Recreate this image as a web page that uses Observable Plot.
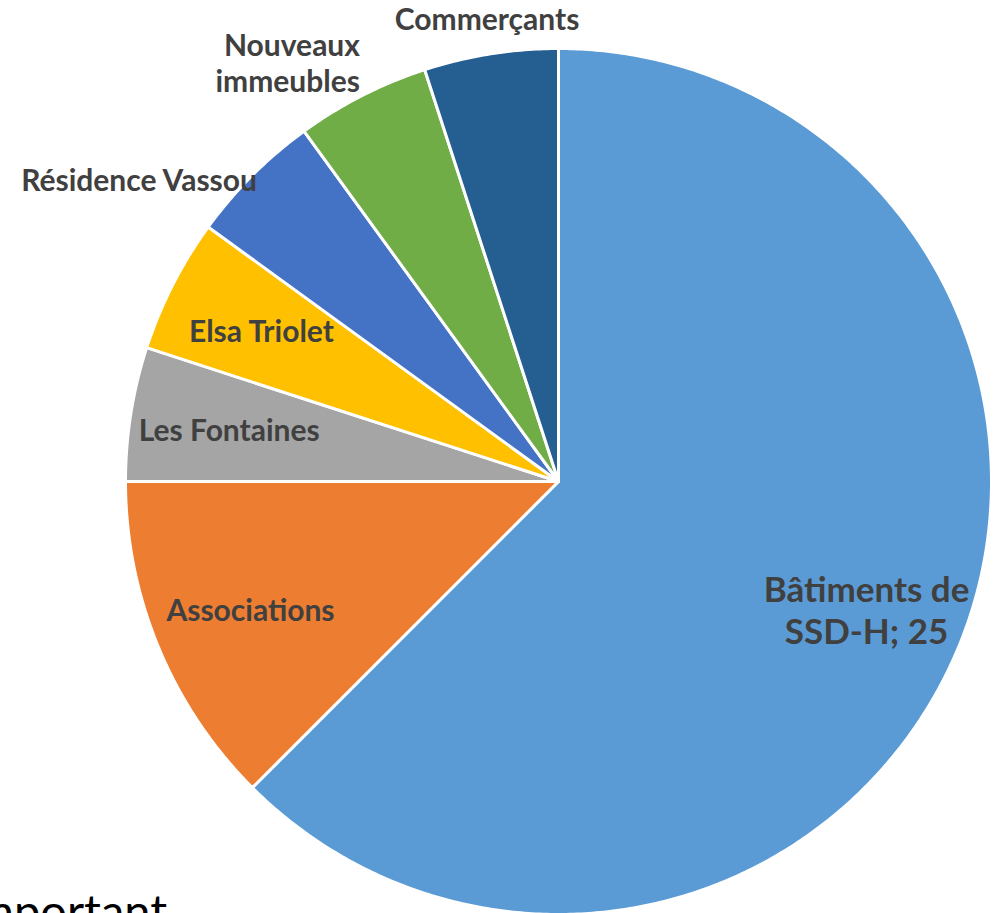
<!DOCTYPE html>
<html><head><meta charset="utf-8">
<script src="https://cdn.jsdelivr.net/npm/d3@7"></script>
<script src="https://cdn.jsdelivr.net/npm/@observablehq/plot@0.6"></script>
<style>
html,body{margin:0;padding:0;background:#fff;overflow:hidden}
#chart{width:996px;height:913px}
</style></head>
<body><div id="chart"></div>
<script>
const categories = ["Bâtiments de SSD-H","Associations","Les Fontaines","Elsa Triolet","Résidence Vassou","Nouveaux immeubles","Commerçants"];
const values = [25, 5, 2, 2, 2, 2, 2];
const labelTexts = ["Bâtiments de\nSSD-H; 25","Associations","Les Fontaines","Elsa Triolet","Résidence Vassou","Nouveaux\nimmeubles","Commerçants"];
const colors = ["#5B9BD5","#ED7D31","#A5A5A5","#FFC000","#4472C4","#70AD47","#255E91"];
const labelInside = [true, true, true, true, false, false, false];
const noteText = "Important";

const rows = categories.map((c, i) => ({name: c, value: values[i], label: labelTexts[i], inside: labelInside[i]}));
const arcs = d3.pie().sort(null).value(d => d.value)(rows);

// slice polygons (unit circle, angle clockwise from 12 o'clock)
const pts = [];
for (const a of arcs) {
  const n = Math.max(2, Math.ceil((a.endAngle - a.startAngle) / (Math.PI / 360)));
  pts.push({name: a.data.name, x: 0, y: 0});
  for (let i = 0; i <= n; i++) {
    const t = a.startAngle + (a.endAngle - a.startAngle) * i / n;
    pts.push({name: a.data.name, x: Math.sin(t), y: Math.cos(t)});
  }
  pts.push({name: a.data.name, x: 0, y: 0});
}

// label anchors (best-fit style: inside for large slices, outside for small ones)
const outsideRadius = {"middle|bottom": 1.055, "end|bottom": 1.01, "end|middle": 0.985, "start|bottom": 1.01, "start|middle": 0.985};
const labels = arcs.map(a => {
  const m = (a.startAngle + a.endAngle) / 2;
  const s = Math.sin(m), c = Math.cos(m);
  const textAnchor = a.data.inside || Math.abs(s) < 0.3 ? "middle" : (s < 0 ? "end" : "start");
  const lineAnchor = a.data.inside ? "middle" : (c > 0.85 ? "bottom" : "middle");
  const r = a.data.inside ? 0.77 : outsideRadius[textAnchor + "|" + lineAnchor];
  return {text: a.data.label, big: a.data.value > 10, x: s * r, y: c * r, textAnchor, lineAnchor};
});

const labelMarks = d3.groups(labels, d => d.textAnchor + "|" + d.lineAnchor).map(([k, g]) =>
  Plot.text(g, {
    x: "x", y: "y", text: "text",
    textAnchor: g[0].textAnchor, lineAnchor: g[0].lineAnchor,
    fontSize: d => d.big ? 35 : 30,
    lineHeight: 1.2,
    fontWeight: "bold",
    fill: "#404040",
    fontFamily: "Lato, sans-serif"
  })
);

const chart = Plot.plot({
  width: 996, height: 913,
  margin: 0,
  x: {domain: [-1, 1], range: [125, 991], axis: null},
  y: {domain: [-1, 1], range: [914, 48], axis: null},
  color: {domain: categories, range: colors},
  style: {background: "white", overflow: "hidden"},
  marks: [
    Plot.line(pts, {x: "x", y: "y", z: "name", fill: "name", stroke: "white", strokeWidth: 3, strokeLinejoin: "round", curve: "linear"}),
    ...labelMarks,
    Plot.text([noteText], {frameAnchor: "bottom-left", text: d => d, textAnchor: "start", lineAnchor: "top", dx: -38, dy: -19, fontSize: 47, fontFamily: "Lato, sans-serif", fill: "black"})
  ]
});
document.getElementById("chart").append(chart);
</script>
</body></html>
